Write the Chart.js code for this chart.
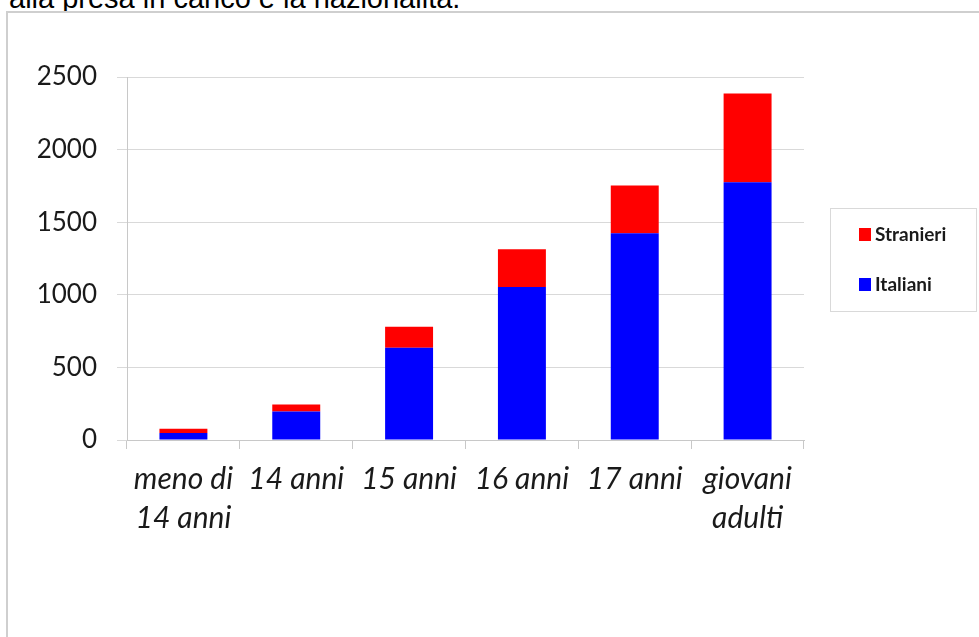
<!DOCTYPE html>
<html>
<head>
<meta charset="utf-8">
<script src="https://cdn.jsdelivr.net/npm/chart.js@4/dist/chart.umd.min.js"></script>
<style>
  html, body { margin: 0; padding: 0; background: #fff; overflow: hidden; }
  body { width: 979px; height: 637px; position: relative; }
  #caption {
    position: absolute; left: 9px; top: -16px;
    font: 29px/29px "Liberation Sans", Arial, sans-serif; color: #000; white-space: nowrap;
  }
  #frame {
    position: absolute; left: 6px; top: 11px; width: 990px; height: 700px;
    border-top: 2px solid #cfcfcf; border-left: 2px solid #cfcfcf; background: #fff;
  }
  #chart { position: absolute; left: 0; top: 0; }
</style>
</head>
<body>
<div id="caption">alla presa in carico e la nazionalità.</div>
<div id="frame"></div>
<canvas id="chart" width="979" height="637"></canvas>
<script>
// data
var categories = [['meno di', '14 anni'], '14 anni', '15 anni', '16 anni', '17 anni', ['giovani', 'adulti']];
var italiani = [48, 197, 635, 1053, 1424, 1775];
var stranieri = [30, 48, 145, 261, 329, 611];
var yMax = 2500;
var yStep = 500;

// legend drawn as a framed box on the right (like the office chart)
var boxLegend = {
  id: 'boxLegend',
  afterDraw: function(chart) {
    var ctx = chart.ctx;
    ctx.save();
    ctx.strokeStyle = '#d9d9d9';
    ctx.lineWidth = 1;
    ctx.strokeRect(830.5, 208.5, 146, 103);
    var items = chart.data.datasets.slice().reverse(); // Stranieri on top
    ctx.font = 'bold 19px Lato';
    ctx.textBaseline = 'middle';
    items.forEach(function(ds, i) {
      var y = 235 + i * 50;
      ctx.fillStyle = ds.backgroundColor;
      ctx.fillRect(859, y - 7, 12, 13);
      ctx.fillStyle = '#1a1a1a';
      ctx.fillText(ds.label, 875, y);
    });
    ctx.restore();
  }
};

var ctx = document.getElementById('chart').getContext('2d');
new Chart(ctx, {
  type: 'bar',
  data: {
    labels: categories,
    datasets: [{
      label: 'Italiani',
      data: italiani,
      backgroundColor: '#0000ff',
      borderWidth: 0,
      barPercentage: 0.425,
      categoryPercentage: 1
    }, {
      label: 'Stranieri',
      data: stranieri,
      backgroundColor: '#ff0000',
      borderWidth: 0,
      barPercentage: 0.425,
      categoryPercentage: 1
    }]
  },
  options: {
    responsive: false,
    animation: false,
    layout: { padding: { left: 0, right: 175, top: 77, bottom: 97 } },
    plugins: {
      legend: { display: false },
      tooltip: { enabled: false }
    },
    scales: {
      x: {
        stacked: true,
        afterFit: function(scale) { scale.height = 100; },
        grid: {
          display: true,
          drawOnChartArea: false,
          offset: true,
          tickLength: 9,
          color: '#c8c8c8'
        },
        border: { color: '#c8c8c8', width: 1 },
        ticks: {
          maxRotation: 0,
          autoSkip: false,
          padding: 11,
          color: '#1a1a1a',
          font: { family: 'Lato', size: 30, style: 'italic', lineHeight: 1.3 }
        }
      },
      y: {
        stacked: true,
        min: 0,
        max: yMax,
        afterFit: function(scale) { scale.width = 127; },
        grid: { color: '#d9d9d9', tickLength: 10 },
        border: { color: '#c8c8c8', width: 1 },
        ticks: {
          stepSize: yStep,
          padding: 20,
          color: '#1a1a1a',
          font: { family: 'Lato', size: 26 },
          callback: function(v) { return String(v); } // no thousands separator
        }
      }
    }
  },
  plugins: [boxLegend]
});
</script>
</body>
</html>
